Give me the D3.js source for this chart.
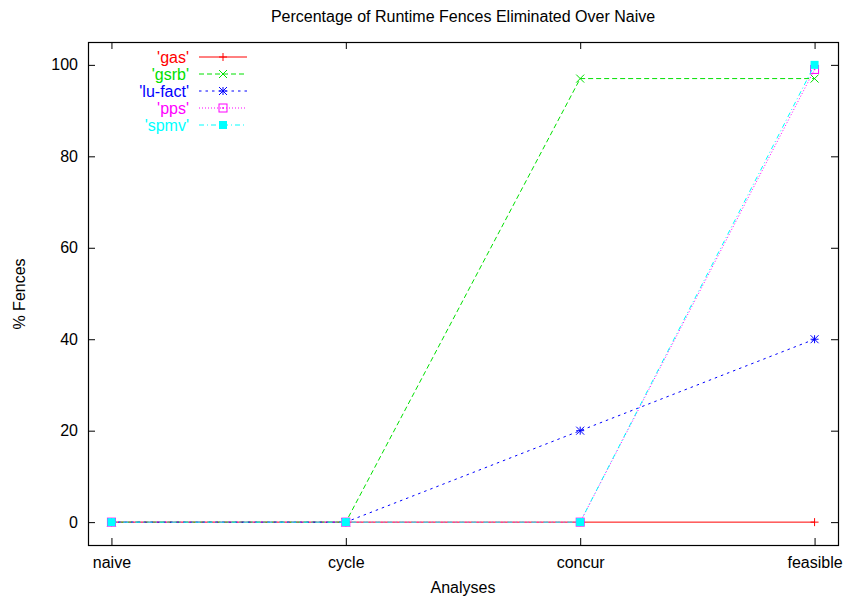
<!DOCTYPE html>
<html>
<head>
<meta charset="utf-8">
<script src="https://cdn.jsdelivr.net/npm/d3@7"></script>
<style>
  body { margin: 0; background: #fff; }
  text { font-family: "Liberation Sans", Arial, sans-serif; }
</style>
</head>
<body>
<div id="chart"></div>
<script>
// Data
const categories = ['naive', 'cycle', 'concur', 'feasible'];
const seriesNames = ["'gas'", "'gsrb'", "'lu-fact'", "'pps'", "'spmv'"];
const gasValues = [0, 0, 0, 0];
const gsrbValues = [0, 0, 97, 97];
const luFactValues = [0, 0, 20, 40];
const ppsValues = [0, 0, 0, 99];
const spmvValues = [0, 0, 0, 100];
const yTicks = [0, 20, 40, 60, 80, 100];

// Style per series (gnuplot look)
const styles = [
    { color: '#ff0000', dash: null, marker: 'plus' },
    { color: '#00e000', dash: '5,3', marker: 'cross' },
    { color: '#0000ff', dash: '2.5,4', marker: 'star' },
    { color: '#ff00ff', dash: '1,2', marker: 'openSquare' },
    { color: '#00ffff', dash: '5,3,1,3', marker: 'filledSquare' }
];
const allValues = [gasValues, gsrbValues, luFactValues, ppsValues, spmvValues];
const series = seriesNames.map((name, i) => ({ name: name, values: allValues[i], style: styles[i] }));

const width = 849, height = 602;
const plot = { left: 88, right: 838, top: 42, bottom: 545 };

const svg = d3.select('#chart').append('svg')
    .attr('width', width)
    .attr('height', height);

const x = d3.scalePoint()
    .domain(categories)
    .range([plot.left, plot.right])
    .padding(0.1);

const y = d3.scaleLinear()
    .domain([-5, 105])
    .range([plot.bottom, plot.top]);

// Axes: ticks point inward, mirrored on top and right
const axisStyle = g => {
    g.select('.domain').remove();
    g.selectAll('line').attr('stroke', '#000');
    g.selectAll('text').attr('fill', '#000').style('font-size', '16px');
};

svg.append('g')
    .attr('transform', `translate(${plot.left},0)`)
    .call(d3.axisLeft(y).tickValues(yTicks).tickSize(-7).tickPadding(10))
    .call(axisStyle);

svg.append('g')
    .attr('transform', `translate(${plot.right},0)`)
    .call(d3.axisRight(y).tickValues(yTicks).tickSize(-7).tickFormat(''))
    .call(axisStyle);

svg.append('g')
    .attr('transform', `translate(0,${plot.bottom})`)
    .call(d3.axisBottom(x).tickSize(-7).tickPadding(12))
    .call(axisStyle);

svg.append('g')
    .attr('transform', `translate(0,${plot.top})`)
    .call(d3.axisTop(x).tickSize(-7).tickFormat(''))
    .call(axisStyle);

// Frame
svg.append('rect')
    .attr('x', plot.left + 0.5)
    .attr('y', plot.top + 0.5)
    .attr('width', plot.right - plot.left)
    .attr('height', plot.bottom - plot.top)
    .attr('fill', 'none')
    .attr('stroke', '#000')
    .attr('stroke-width', 1.2);

// Marker drawing
function drawMarker(g, type, cx, cy, color) {
    const s = 4;
    if (type === 'plus' || type === 'star') {
        g.append('path')
            .attr('d', `M${cx - s},${cy}H${cx + s}M${cx},${cy - s}V${cy + s}`)
            .attr('stroke', color).attr('stroke-width', 1).attr('fill', 'none');
    }
    if (type === 'cross' || type === 'star') {
        g.append('path')
            .attr('d', `M${cx - s},${cy - s}L${cx + s},${cy + s}M${cx - s},${cy + s}L${cx + s},${cy - s}`)
            .attr('stroke', color).attr('stroke-width', 1).attr('fill', 'none');
    }
    if (type === 'openSquare') {
        g.append('rect')
            .attr('x', cx - s).attr('y', cy - s)
            .attr('width', 2 * s).attr('height', 2 * s)
            .attr('fill', 'none').attr('stroke', color).attr('stroke-width', 1);
        g.append('rect')
            .attr('x', cx - 0.8).attr('y', cy - 0.8)
            .attr('width', 1.6).attr('height', 1.6)
            .attr('fill', color);
    }
    if (type === 'filledSquare') {
        g.append('rect')
            .attr('x', cx - s).attr('y', cy - s)
            .attr('width', 2 * s).attr('height', 2 * s)
            .attr('fill', color);
    }
}

const line = d3.line()
    .x((d, i) => x(categories[i]))
    .y(d => y(d));

series.forEach(s => {
    const g = svg.append('g');
    g.append('path')
        .datum(s.values)
        .attr('d', line)
        .attr('fill', 'none')
        .attr('stroke', s.style.color)
        .attr('stroke-width', 1)
        .attr('stroke-dasharray', s.style.dash);
    s.values.forEach((v, i) => drawMarker(g, s.style.marker, x(categories[i]), y(v), s.style.color));
});

// Legend
const legend = svg.append('g');
series.forEach((s, i) => {
    const ly = 57 + i * 17;
    legend.append('text')
        .attr('x', 189)
        .attr('y', ly)
        .attr('dy', '0.35em')
        .attr('text-anchor', 'end')
        .attr('fill', s.style.color)
        .style('font-size', '16px')
        .text(s.name);
    legend.append('line')
        .attr('x1', 199).attr('x2', 247)
        .attr('y1', ly).attr('y2', ly)
        .attr('stroke', s.style.color)
        .attr('stroke-width', 1)
        .attr('stroke-dasharray', s.style.dash);
    drawMarker(legend, s.style.marker, 223, ly, s.style.color);
});

// Titles
svg.append('text')
    .attr('x', 463)
    .attr('y', 22)
    .attr('text-anchor', 'middle')
    .style('font-size', '16px')
    .text('Percentage of Runtime Fences Eliminated Over Naive');

svg.append('text')
    .attr('x', 463)
    .attr('y', 593)
    .attr('text-anchor', 'middle')
    .style('font-size', '16px')
    .text('Analyses');

svg.append('text')
    .attr('transform', 'translate(25,294) rotate(-90)')
    .attr('text-anchor', 'middle')
    .style('font-size', '16px')
    .text('% Fences');
</script>
</body>
</html>
